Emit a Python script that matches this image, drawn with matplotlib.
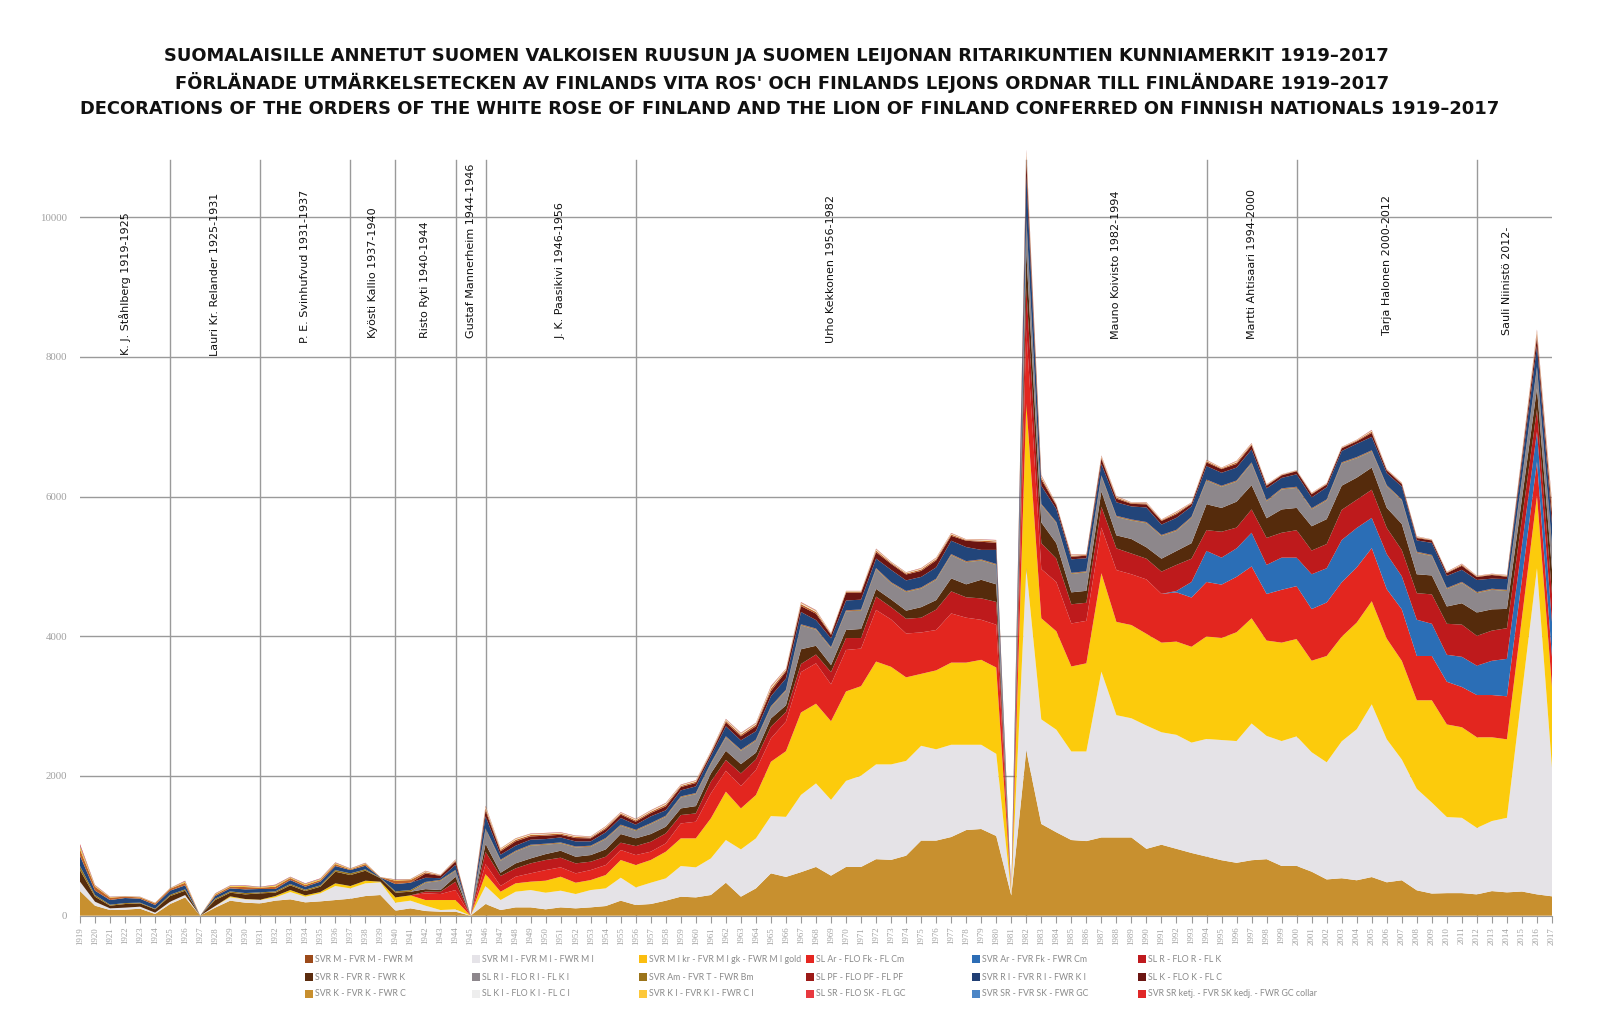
import matplotlib
matplotlib.use("Agg")
import matplotlib.pyplot as plt
from matplotlib.patches import Rectangle
from matplotlib import font_manager

years = list(range(1919, 2018))

# ---- series values (stack order, bottom -> top) ----
svrm = [353,143,81,86,100,24,167,262,0,115,
        215,186,176,215,234,191,205,224,243,281,
        296,72,105,67,57,57,0,167,81,119,
        119,91,119,105,119,138,215,153,167,215,
        272,262,296,472,272,391,606,555,623,698,
        573,698,698,809,799,859,1075,1075,1126,1226,
        1241,1141,290,2366,1313,1194,1083,1068,1120,1120,
        1120,957,1016,957,898,846,794,757,794,809,
        712,712,630,519,536,507,553,478,507,363,
        317,323,323,305,352,334,346,305,277]
svrmi = [134,57,24,29,29,19,33,34,0,23,
         47,48,48,47,105,81,115,201,148,182,
         181,114,110,76,24,34,0,258,143,224,
         248,238,239,205,248,253,329,252,305,319,
         439,430,524,611,677,716,820,860,1106,1196,
         1085,1232,1307,1357,1367,1357,1357,1307,1321,1221,
         1206,1176,20,2611,1498,1469,1268,1283,2374,1751,
         1706,1765,1610,1632,1580,1684,1721,1743,1958,1765,
         1788,1855,1710,1677,1960,2162,2473,2047,1729,1453,
         1303,1089,1078,952,1003,1067,2842,4669,1844]
svrmikr = [0,0,0,0,0,0,0,0,0,0,
           15,5,5,19,28,19,19,38,34,38,
           10,76,76,81,143,133,0,171,119,120,
           120,172,200,162,143,191,253,320,325,382,
           396,415,573,692,587,620,778,940,1180,1141,
           1126,1281,1281,1472,1397,1196,1030,1130,1176,1176,
           1216,1236,5,2359,1447,1409,1217,1262,1409,1335,
           1335,1313,1283,1335,1372,1468,1461,1558,1506,1365,
           1409,1394,1310,1522,1498,1527,1476,1441,1413,1268,
           1464,1326,1297,1297,1199,1124,1080,1038,1153]
slar = [0,0,0,0,0,0,0,0,0,0,
        0,0,0,0,0,0,0,0,0,0,
        0,0,0,96,86,143,0,143,82,95,
        119,152,134,134,143,143,143,143,119,119,
        214,238,358,300,320,358,334,425,578,578,
        528,593,538,739,678,628,593,578,704,643,
        573,613,5,1064,705,705,616,608,653,742,
        727,779,698,705,705,779,764,793,742,667,
        757,757,740,766,779,790,761,709,737,634,
        634,611,576,605,605,616,552,488,430]
svrar = [0,0,0,0,0,0,0,0,0,0,
         0,0,0,0,0,0,0,0,0,0,
         0,0,0,0,0,0,0,0,0,0,
         0,0,0,0,0,0,0,0,0,0,
         0,0,0,0,0,0,0,0,0,0,
         0,0,0,0,0,0,0,0,0,0,
         0,0,0,0,0,0,0,0,0,0,
         0,0,0,20,222,445,386,408,482,416,
         460,408,498,490,605,565,432,501,473,519,
         461,386,432,420,490,536,483,430,500]
slr = [0,0,0,0,0,0,0,0,0,0,
       0,0,0,0,0,0,0,0,0,0,
       0,0,0,25,33,119,0,177,143,119,
       143,144,138,143,120,119,105,129,143,143,
       120,119,167,153,181,152,167,135,116,126,
       175,171,151,191,176,211,211,292,316,292,
       307,326,0,600,370,334,274,259,297,311,
       297,297,319,373,334,297,371,297,334,386,
       356,393,340,346,432,403,403,375,375,380,
       421,444,461,427,432,439,380,320,400]
svrr = [166,72,38,52,47,48,81,62,0,86,
        52,66,91,48,67,62,76,167,157,143,
        50,67,52,35,24,72,0,110,47,72,
        71,85,100,95,95,105,124,110,110,96,
        95,105,119,133,133,96,119,97,211,125,
        101,115,130,110,111,116,151,136,186,186,
        266,252,0,500,297,222,171,171,222,186,
        208,163,185,200,222,371,341,371,348,282,
        334,319,347,357,346,317,317,288,374,271,
        271,248,306,334,305,276,288,300,350]
slri = [0,0,0,0,0,0,0,0,0,0,
        0,0,0,0,0,0,0,0,0,0,
        0,0,0,90,133,85,0,209,172,166,
        181,134,105,133,119,148,118,109,142,142,
        157,172,133,191,191,171,157,208,342,231,
        241,267,262,282,231,266,266,291,332,316,
        276,276,0,490,250,287,264,265,213,264,
        264,346,324,287,362,338,302,287,309,242,
        286,287,243,267,319,279,232,307,336,307,
        278,249,290,279,279,257,273,290,340]
svram = [57,24,14,14,10,9,19,19,0,19,
         19,19,14,19,19,19,19,23,24,19,
         5,19,24,10,10,10,0,10,10,10,
         10,10,10,9,10,10,11,10,10,10,
         10,10,11,10,10,11,12,10,10,10,
         10,10,10,11,10,10,10,10,10,10,
         10,10,0,10,10,10,10,10,10,10,
         10,10,10,10,10,10,10,10,10,10,
         10,10,10,10,10,10,10,10,10,10,
         10,10,10,10,10,10,10,10,10]
slpf = [0,0,0,0,0,0,0,0,0,0,
        0,0,0,0,0,0,0,0,0,0,
        0,0,0,3,3,3,0,5,5,5,
        5,5,4,5,5,5,5,5,5,5,
        5,5,5,6,6,6,6,6,6,6,
        6,6,6,6,6,6,6,6,6,6,
        6,6,0,8,6,6,6,6,6,6,
        6,6,6,6,6,6,6,6,6,6,
        6,6,6,6,6,6,6,6,6,6,
        6,6,6,6,6,6,6,6,6]
svrri = [148,62,67,72,57,53,58,57,0,38,
         43,53,48,34,57,43,53,58,47,52,
         5,105,105,60,24,72,0,172,71,72,
         72,66,71,72,62,81,96,71,96,77,
         86,95,95,143,133,119,143,160,176,121,
         126,140,141,135,176,151,151,161,191,201,
         136,201,0,600,259,186,193,185,163,193,
         186,208,148,171,148,193,185,185,186,170,
         149,178,154,173,161,190,191,173,185,161,
         173,173,173,172,144,154,217,300,300]
slk = [0,0,0,0,0,0,0,0,0,0,
       0,0,0,0,0,0,0,0,0,0,
       0,0,0,60,34,48,0,80,48,62,
       47,48,38,48,43,47,48,44,47,57,
       47,48,38,57,58,72,71,100,85,91,
       50,111,100,91,85,85,86,100,70,91,
       116,101,0,200,89,52,37,37,74,52,
       37,45,52,52,37,52,52,52,59,38,
       37,44,46,40,40,34,57,40,34,35,
       34,40,57,41,52,34,82,130,150]
svrk = [91,57,34,19,19,23,28,38,0,19,
        24,33,19,33,29,24,23,28,10,24,
        5,48,38,20,8,15,0,35,22,22,
        20,19,17,17,14,20,17,19,20,24,
        17,19,17,24,24,24,36,20,28,25,
        13,13,13,25,15,15,20,20,20,10,
        18,20,0,70,30,11,15,11,22,18,
        11,15,11,18,11,18,11,22,15,11,
        8,8,10,9,9,12,20,9,10,12,
        8,9,14,9,9,12,30,50,70]
slki = [0,0,0,0,0,0,0,0,0,0,
        0,0,0,0,0,0,0,0,0,0,
        0,0,0,8,2,5,0,15,8,8,
        8,8,7,7,6,8,7,8,8,10,
        7,8,7,10,10,10,15,8,11,10,
        5,5,5,10,6,6,8,8,8,4,
        7,8,0,30,12,4,6,4,9,7,
        4,6,4,7,4,7,4,9,6,4,
        3,3,4,4,4,5,8,4,4,5,
        3,4,6,3,3,5,12,20,30]
svrki = [40,14,8,5,6,6,6,17,0,12,
         11,14,8,17,11,14,14,14,8,11,
         0,11,9,6,2,5,0,10,8,8,
         6,6,5,5,4,6,5,6,6,7,
         5,6,5,7,7,7,11,6,8,8,
         4,4,4,8,5,5,6,6,6,3,
         5,6,0,25,9,3,5,3,7,6,
         3,4,3,6,3,6,3,7,5,3,
         2,2,3,3,3,3,6,3,3,3,
         2,3,4,3,3,4,10,15,25]
slsr = [0,0,0,0,0,0,0,0,0,0,
        0,0,0,0,0,0,0,0,0,0,
        0,0,0,2,1,2,0,4,2,2,
        2,2,2,2,2,2,2,2,2,3,
        2,2,2,3,3,3,4,2,3,3,
        1,1,1,3,2,2,2,2,2,1,
        2,2,0,10,4,1,2,1,3,2,
        1,2,1,2,1,2,1,2,2,1,
        1,1,1,1,1,1,3,1,1,1,
        1,1,2,1,1,1,4,6,10]
svrsr = [16,5,3,2,2,2,2,6,0,4,
         4,5,3,6,4,5,5,5,3,4,
         0,4,3,2,1,2,0,4,2,2,
         2,2,2,2,2,2,2,2,2,3,
         2,2,2,3,3,3,4,2,3,3,
         1,1,1,3,2,2,2,2,2,1,
         2,2,0,10,4,1,2,1,3,2,
         1,2,1,2,1,2,1,2,2,1,
         1,1,1,1,1,1,3,1,1,1,
         1,1,2,1,1,1,4,6,10]
svrsrketj = [20,5,3,2,2,2,2,6,0,4,
             4,5,3,6,4,5,5,5,3,4,
             0,4,3,2,1,2,0,4,2,2,
             3,3,3,3,2,3,3,3,3,3,
             3,3,3,3,3,3,5,3,4,3,
             2,2,2,3,2,2,3,3,3,2,
             2,3,0,12,5,2,3,2,4,3,
             2,2,2,3,2,3,2,3,3,2,
             1,1,2,2,2,2,4,2,2,2,
             1,2,3,2,2,2,6,8,12]

series = [svrm, svrmi, svrmikr, slar, svrar, slr, svrr, slri, svram,
          slpf, svrri, slk, svrk, slki, svrki, slsr, svrsr, svrsrketj]
for s in series:
    assert len(s) == len(years), len(s)

layer_colors = ['#C8902F', '#E5E3E7', '#FCCB0C', '#E3261F', '#2B6EB6', '#BE1A1C',
                '#552B0C', '#8D878B', '#9B741A', '#9C1A17', '#22457A', '#6B1512',
                '#C0622A', '#EFEDEE', '#FDC83A', '#E8393F', '#4C86C6', '#E02727']

# ---- legend (label, swatch colour), laid out in 3 rows x 6 columns ----
legend_rows = [
    [("SVR M - FVR M - FWR M", '#9C4A1A'), ("SVR M I - FVR M I - FWR M I", '#E5E3E8'),
     ("SVR M I kr - FVR M I gk - FWR M I gold", '#FBBE10'), ("SL Ar - FLO Fk - FL Cm", '#E52620'),
     ("SVR Ar - FVR Fk - FWR Cm", '#2D6DB5'), ("SL R - FLO R - FL K", '#BF1A1E')],
    [("SVR R - FVR R - FWR K", '#5B2C0E'), ("SL R I - FLO R I - FL K I", '#8D878C'),
     ("SVR Am - FVR T - FWR Bm", '#9B741A'), ("SL PF - FLO PF - FL PF", '#9C1A17'),
     ("SVR R I - FVR R I - FWR K I", '#213F74'), ("SL K - FLO K - FL C", '#6B1512')],
    [("SVR K - FVR K - FWR C", '#C88F2E'), ("SL K I - FLO K I - FL C I", '#EEEEEE'),
     ("SVR K I - FVR K I - FWR C I", '#FDC83A'), ("SL SR - FLO SK - FL GC", '#E8393F'),
     ("SVR SR - FVR SK - FWR GC", '#4C86C6'), ("SVR SR ketj. - FVR SK kedj. - FWR GC collar", '#E02727')],
]

# ---- presidential terms ----
term_starts = [1925, 1931, 1937, 1940, 1944, 1946, 1956, 1982, 1994, 2000, 2012]
presidents = ["K. J. Ståhlberg 1919-1925", "Lauri Kr. Relander 1925-1931",
              "P. E. Svinhufvud 1931-1937", "Kyösti Kallio 1937-1940",
              "Risto Ryti 1940-1944", "Gustaf Mannerheim 1944-1946",
              "J. K. Paasikivi 1946-1956", "Urho Kekkonen 1956-1982",
              "Mauno Koivisto 1982-1994", "Martti Ahtisaari 1994-2000",
              "Tarja Halonen 2000-2012", "Sauli Niinistö 2012-"]
label_x = [1922, 1928, 1934, 1938.5, 1942, 1945, 1951, 1969, 1988, 1997, 2006, 2014]
label_y = [8020, 8010, 8200, 8270, 8270, 8270, 8250, 8200, 8260, 8260, 8320, 8320]

titles = ["SUOMALAISILLE ANNETUT SUOMEN VALKOISEN RUUSUN JA SUOMEN LEIJONAN RITARIKUNTIEN KUNNIAMERKIT 1919–2017",
          "FÖRLÄNADE UTMÄRKELSETECKEN AV FINLANDS VITA ROS' OCH FINLANDS LEJONS ORDNAR TILL FINLÄNDARE 1919–2017",
          "DECORATIONS OF THE ORDERS OF THE WHITE ROSE OF FINLAND AND THE LION OF FINLAND CONFERRED ON FINNISH NATIONALS 1919–2017"]
title_x = [0.4850, 0.4890, 0.4937]
title_y = [0.9453, 0.9198, 0.8935]

yticks = [0, 2000, 4000, 6000, 8000, 10000]

installed = {f.name for f in font_manager.fontManager.ttflist}
narrow = 'Liberation Sans Narrow' if 'Liberation Sans Narrow' in installed else 'DejaVu Sans'
narrow_size = 10 if narrow == 'Liberation Sans Narrow' else 8

fig = plt.figure(figsize=(16, 10.23), dpi=100)
ax = fig.add_axes([0.05, 0.1049, 0.92, 0.7579])
ax.set_facecolor('white')

ax.stackplot(years, *series, colors=layer_colors, linewidth=0, zorder=2)
ax.set_xlim(1919, 2017)
ax.set_ylim(0, 11100)

for v in yticks[1:]:
    ax.axhline(v, color='#9a9a9a', lw=1.0, zorder=0)
for yr in term_starts:
    ax.plot([yr, yr], [0, 10820], color='#9a9a9a', lw=1.0, zorder=0)

for name, xx, yy in zip(presidents, label_x, label_y):
    ax.text(xx, yy, name, rotation=90, ha='center', va='bottom',
            fontsize=narrow_size, family=narrow, color='#111111', zorder=3)

for sp in ['top', 'right', 'left']:
    ax.spines[sp].set_visible(False)
ax.spines['bottom'].set_color('#9a9a9a')
ax.spines['bottom'].set_zorder(3)

ax.set_xticks(years)
ax.set_xticklabels([str(y) for y in years], rotation=90, family='Liberation Serif')
ax.tick_params(axis='x', length=5, color='#9a9a9a', labelsize=6.3, labelcolor='#a0a0a0', pad=3)
ax.set_yticks(yticks)
ax.set_yticklabels([str(v) for v in yticks], family='Liberation Serif')
ax.tick_params(axis='y', length=0, labelsize=7.8, labelcolor='#a0a0a0', pad=9)

for t, tx, ty in zip(titles, title_x, title_y):
    fig.text(tx, ty, t, ha='center', va='center',
             fontsize=12.85, fontweight='bold', family='DejaVu Sans', color='#111111')

col_x = [305, 472, 639, 806, 972, 1138]
row_y = [959, 977, 994]
W, H = 1600.0, 1023.0
for r, row in enumerate(legend_rows):
    for c, (lab, col) in enumerate(row):
        x0 = col_x[c] / W
        yc = 1 - row_y[r] / H
        fig.add_artist(Rectangle((x0, yc - 4 / H), 8 / W, 8 / H, transform=fig.transFigure,
                                 facecolor=col, edgecolor='none'))
        fig.text(x0 + 10 / W, yc, lab, ha='left', va='center', fontsize=6.3,
                 family='Lato', color='#8a8a8a')

fig.savefig('out.png', dpi=100, facecolor='white')
